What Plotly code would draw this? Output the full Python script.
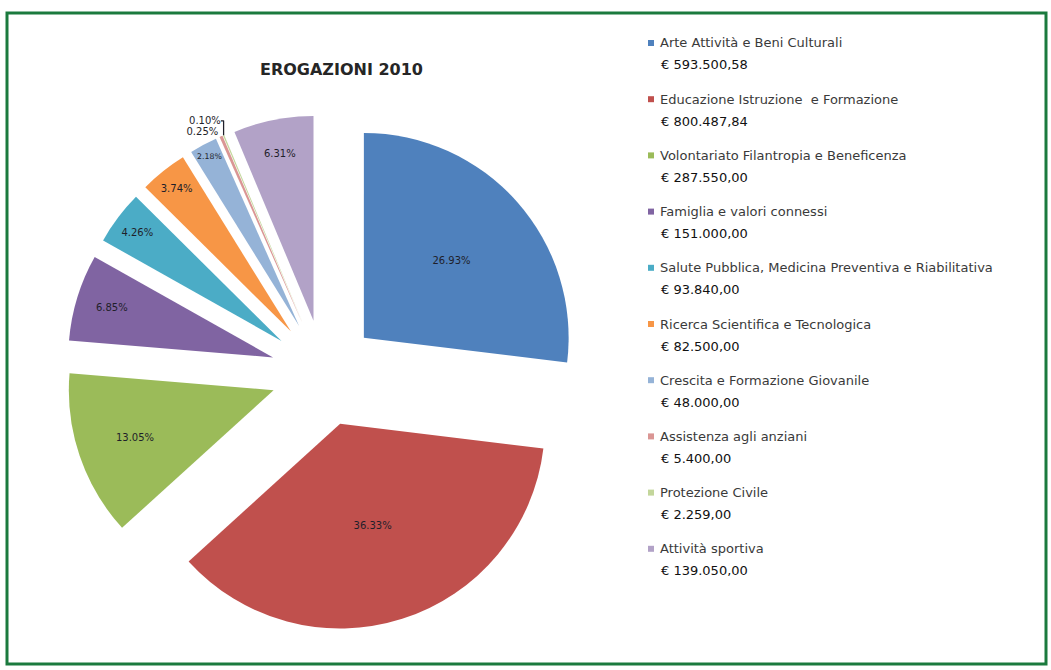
import plotly.graph_objects as go

# Erogazioni 2010 per settore (euro)
settori = [
    "Arte Attività e Beni Culturali",
    "Educazione Istruzione  e Formazione",
    "Volontariato Filantropia e Beneficenza",
    "Famiglia e valori connessi",
    "Salute Pubblica, Medicina Preventiva e Riabilitativa",
    "Ricerca Scientifica e Tecnologica",
    "Crescita e Formazione Giovanile",
    "Assistenza agli anziani",
    "Protezione Civile",
    "Attività sportiva",
]
importi = [593500.58, 800487.84, 287550.00, 151000.00, 93840.00,
           82500.00, 48000.00, 5400.00, 2259.00, 139050.00]
colori = ["#4F81BD", "#C0504D", "#9BBB59", "#8064A2", "#4BACC6",
          "#F79646", "#95B3D7", "#DA9694", "#C3D69B", "#B2A2C7"]

W, H = 1051, 670
FONT = "DejaVu Sans, Verdana, sans-serif"


def euro(v):
    s = f"{v:,.2f}"
    return s.replace(",", "X").replace(".", ",").replace("X", ".")


text_pos = ["inside" if v / sum(importi) > 0.01 else "outside" for v in importi]

fig = go.Figure(go.Pie(
    labels=settori,
    values=importi,
    sort=False,
    direction="clockwise",
    rotation=0,
    pull=[0.26] * len(importi),
    marker=dict(colors=colori, line=dict(width=0)),
    texttemplate="%{percent:.2%}",
    textposition=text_pos,
    insidetextorientation="horizontal",
    textfont=dict(family=FONT, size=10, color="#1f1f2a"),
    domain=dict(x=[66 / W, 582 / W], y=[1 - 631 / H, 1 - 115 / H]),
    showlegend=False,
    automargin=False,
    hoverinfo="label+value+percent",
))

# Legenda: quadratino colorato, nome del settore e importo
shapes = []
annotations = []
x0, y0, step = 648, 43, 56.2
for i, (nome, v, c) in enumerate(zip(settori, importi, colori)):
    yc = y0 + i * step
    shapes.append(dict(type="rect", xref="paper", yref="paper",
                       x0=x0 / W, x1=(x0 + 6) / W,
                       y0=1 - (yc + 3) / H, y1=1 - (yc - 3) / H,
                       fillcolor=c, line=dict(width=0)))
    annotations.append(dict(x=(x0 + 10) / W, y=1 - yc / H, xref="paper", yref="paper",
                            text=nome, showarrow=False, xanchor="left", yanchor="middle",
                            font=dict(family=FONT, size=13, color="#3a3a3a")))
    annotations.append(dict(x=(x0 + 11) / W, y=1 - (yc + 22) / H, xref="paper", yref="paper",
                            text="€ " + euro(v), showarrow=False,
                            xanchor="left", yanchor="middle",
                            font=dict(family=FONT, size=13, color="#111111")))

# Titolo del grafico
annotations.append(dict(x=341 / W, y=1 - 70 / H, xref="paper", yref="paper",
                        text="<b>EROGAZIONI 2010</b>", showarrow=False,
                        xanchor="center", yanchor="middle",
                        font=dict(family=FONT, size=16, color="#262626")))

# Cornice verde
shapes.append(dict(type="rect", xref="paper", yref="paper",
                   x0=7 / W, x1=1046 / W, y0=1 - 664 / H, y1=1 - 13 / H,
                   line=dict(color="#1B7A3E", width=3), fillcolor="rgba(0,0,0,0)"))

fig.update_layout(
    width=W, height=H,
    margin=dict(l=0, r=0, t=0, b=0, pad=0, autoexpand=False),
    paper_bgcolor="white",
    plot_bgcolor="white",
    shapes=shapes,
    annotations=annotations,
    xaxis=dict(visible=False),
    yaxis=dict(visible=False),
)

fig.write_html("out.html")
